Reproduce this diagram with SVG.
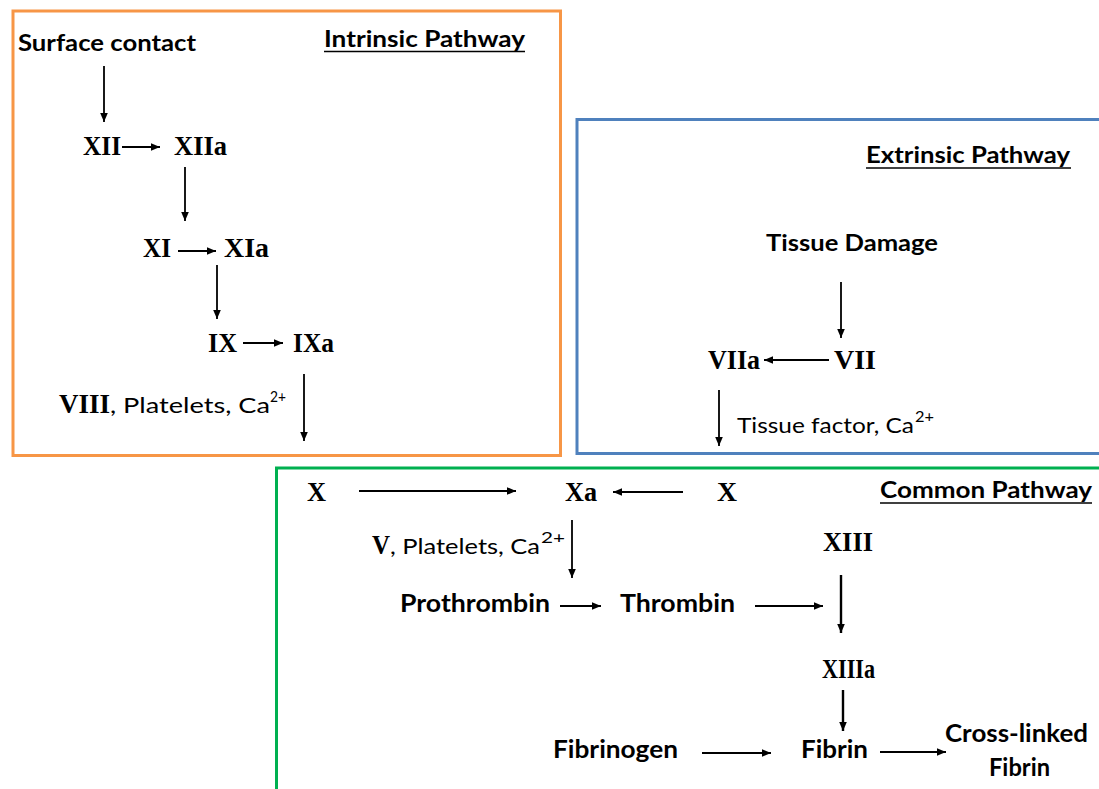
<svg xmlns="http://www.w3.org/2000/svg" width="1099" height="789" viewBox="0 0 1099 789">
<style>
.box{fill:none;stroke-width:3}
.rn{font-family:"Liberation Serif","Times New Roman",serif;font-weight:bold;font-size:27px;fill:#000}
.sb{font-family:Lato,"Liberation Sans",sans-serif;font-weight:bold;font-size:23px;fill:#000}
.sbl{font-family:Lato,"Liberation Sans",sans-serif;font-weight:bold;font-size:25px;fill:#000}
.sr{font-family:Lato,"Liberation Sans",sans-serif;font-size:22px;fill:#000}
.sup{font-family:Lato,"Liberation Sans",sans-serif;font-size:15px;fill:#000}
.ar{stroke:#000;stroke-width:1.8;fill:none;marker-end:url(#ah)}
.ul{stroke:#000;stroke-width:1.6}
</style>
<defs>
<marker id="ah" markerUnits="userSpaceOnUse" markerWidth="10" markerHeight="10" refX="9" refY="5" orient="auto">
<path d="M0,1.2 L9,5 L0,8.8 Z" fill="#000"/>
</marker>
</defs>
<rect width="1099" height="789" fill="#fff"/>
<g id="intrinsic-box"><rect class="box" x="13" y="11" width="547.5" height="444.5" stroke="#F79646"/></g>
<g id="extrinsic-box"><rect class="box" x="577" y="119.5" width="530" height="334" stroke="#4F81BD"/></g>
<g id="common-box"><rect class="box" x="276.5" y="468" width="830" height="330" stroke="#00B050"/></g>

<g id="intrinsic-title"><text class="sb" x="324" y="47" textLength="201" lengthAdjust="spacingAndGlyphs">Intrinsic Pathway</text><line class="ul" x1="324" y1="51.5" x2="525" y2="51.5"/></g>
<g id="surface-contact"><text class="sb" x="18" y="51" textLength="178" lengthAdjust="spacingAndGlyphs">Surface contact</text></g>
<g id="XII"><text class="rn" x="83" y="155" textLength="38" lengthAdjust="spacingAndGlyphs">XII</text></g>
<g id="XIIa"><text class="rn" x="174" y="155" textLength="53" lengthAdjust="spacingAndGlyphs">XIIa</text></g>
<g id="XI"><text class="rn" x="143" y="257" textLength="28" lengthAdjust="spacingAndGlyphs">XI</text></g>
<g id="XIa"><text class="rn" x="224" y="257" textLength="45" lengthAdjust="spacingAndGlyphs">XIa</text></g>
<g id="IX"><text class="rn" x="208" y="352" textLength="29" lengthAdjust="spacingAndGlyphs">IX</text></g>
<g id="IXa"><text class="rn" x="293" y="352" textLength="41" lengthAdjust="spacingAndGlyphs">IXa</text></g>
<g id="VIII-label"><text class="rn" x="59" y="413" textLength="51" lengthAdjust="spacingAndGlyphs">VIII</text><text class="sr" x="110" y="413" textLength="160" lengthAdjust="spacingAndGlyphs">, Platelets, Ca</text><text class="sup" x="270" y="402" textLength="16" lengthAdjust="spacingAndGlyphs">2+</text></g>

<g id="extrinsic-title"><text class="sb" x="866" y="163" textLength="204" lengthAdjust="spacingAndGlyphs">Extrinsic Pathway</text><line class="ul" x1="866" y1="168" x2="1071" y2="168"/></g>
<g id="tissue-damage"><text class="sb" x="766" y="251" textLength="172" lengthAdjust="spacingAndGlyphs">Tissue Damage</text></g>
<g id="VIIa"><text class="rn" x="708" y="369" textLength="52" lengthAdjust="spacingAndGlyphs">VIIa</text></g>
<g id="VII"><text class="rn" x="834" y="369" textLength="42" lengthAdjust="spacingAndGlyphs">VII</text></g>
<g id="tissue-factor"><text class="sr" x="737" y="433" textLength="177" lengthAdjust="spacingAndGlyphs">Tissue factor, Ca</text><text class="sup" x="915" y="422" textLength="19" lengthAdjust="spacingAndGlyphs">2+</text></g>

<g id="common-title"><text class="sb" x="880" y="498" textLength="212" lengthAdjust="spacingAndGlyphs">Common Pathway</text><line class="ul" x1="880" y1="503" x2="1092" y2="503"/></g>
<g id="X-left"><text class="rn" x="307" y="501" textLength="19" lengthAdjust="spacingAndGlyphs">X</text></g>
<g id="Xa"><text class="rn" x="565" y="501" textLength="32" lengthAdjust="spacingAndGlyphs">Xa</text></g>
<g id="X-right"><text class="rn" x="717" y="501" textLength="20" lengthAdjust="spacingAndGlyphs">X</text></g>
<g id="V-label"><text class="rn" x="372" y="554" textLength="18" lengthAdjust="spacingAndGlyphs">V</text><text class="sr" x="390" y="554" textLength="150" lengthAdjust="spacingAndGlyphs">, Platelets, Ca</text><text class="sup" x="541" y="543" textLength="24" lengthAdjust="spacingAndGlyphs">2+</text></g>
<g id="XIII"><text class="rn" x="823" y="551" textLength="50" lengthAdjust="spacingAndGlyphs">XIII</text></g>
<g id="prothrombin"><text class="sbl" x="400" y="612" textLength="150" lengthAdjust="spacingAndGlyphs">Prothrombin</text></g>
<g id="thrombin"><text class="sbl" x="620" y="612" textLength="115" lengthAdjust="spacingAndGlyphs">Thrombin</text></g>
<g id="XIIIa"><text class="rn" x="822" y="678" textLength="53" lengthAdjust="spacingAndGlyphs">XIIIa</text></g>
<g id="fibrinogen"><text class="sbl" x="553" y="758" textLength="125" lengthAdjust="spacingAndGlyphs">Fibrinogen</text></g>
<g id="fibrin"><text class="sbl" x="801" y="758" textLength="67" lengthAdjust="spacingAndGlyphs">Fibrin</text></g>
<g id="cross-linked-fibrin"><text class="sbl" x="945" y="742" textLength="143" lengthAdjust="spacingAndGlyphs">Cross-linked</text><text class="sbl" x="989" y="776" textLength="61" lengthAdjust="spacingAndGlyphs">Fibrin</text></g>

<g id="connectors">
<line class="ar" x1="104" y1="66" x2="104" y2="122"/>
<line class="ar" x1="122" y1="147" x2="160" y2="147"/>
<line class="ar" x1="185" y1="167" x2="185" y2="221"/>
<line class="ar" x1="178" y1="251" x2="216" y2="251"/>
<line class="ar" x1="217" y1="265" x2="217" y2="319"/>
<line class="ar" x1="243" y1="343" x2="283" y2="343"/>
<line class="ar" x1="304" y1="374" x2="304" y2="441"/>
<line class="ar" x1="841" y1="282" x2="841" y2="338"/>
<line class="ar" x1="829" y1="360" x2="764" y2="360"/>
<line class="ar" x1="719" y1="390" x2="719" y2="446"/>
<line class="ar" x1="359" y1="491" x2="516" y2="491"/>
<line class="ar" x1="683" y1="492" x2="613" y2="492"/>
<line class="ar" x1="572" y1="520" x2="572" y2="578"/>
<line class="ar" x1="560" y1="606" x2="601" y2="606"/>
<line class="ar" x1="755" y1="606" x2="823" y2="606"/>
<line class="ar" x1="841" y1="575" x2="841" y2="633" style="stroke-width:2.4"/>
<line class="ar" x1="843" y1="690" x2="843" y2="731" style="stroke-width:2.4"/>
<line class="ar" x1="702" y1="753" x2="771" y2="753"/>
<line class="ar" x1="880" y1="752" x2="946" y2="752"/>
</g>
</svg>
